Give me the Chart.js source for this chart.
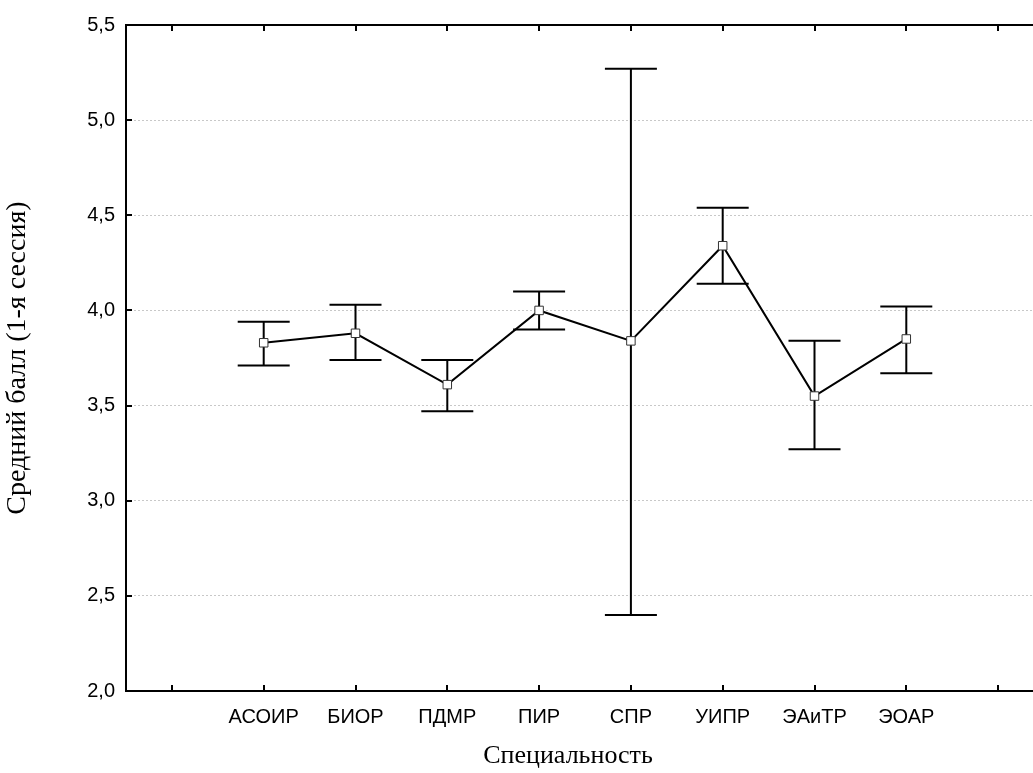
<!DOCTYPE html>
<html>
<head>
<meta charset="utf-8">
<script src="https://cdn.jsdelivr.net/npm/chart.js@4/dist/chart.umd.min.js"></script>
<style>
  html, body { margin: 0; padding: 0; background: #fff; overflow: hidden; }
  #wrap { width: 1060px; height: 773px; }
</style>
</head>
<body>
<div id="wrap"><canvas id="grafico" width="1060" height="773"></canvas></div>
<script>
const categorias = ["АСОИР", "БИОР", "ПДМР", "ПИР", "СПР", "УИПР", "ЭАиТР", "ЭОАР"];
const medias = [3.83, 3.88, 3.61, 4.00, 3.84, 4.34, 3.55, 3.85];
const inferior = [3.71, 3.74, 3.47, 3.90, 2.40, 4.14, 3.27, 3.67];
const superior = [3.94, 4.03, 3.74, 4.10, 5.27, 4.54, 3.84, 4.02];
const yMin = 2.0;
const yMax = 5.5;
const yPaso = 0.5;
const tituloX = "Специальность";
const tituloY = "Средний балл (1-я сессия)";

// empty slots at both ends, like the original axis
const etiquetas = ["", ...categorias, ""];
const datos = [null, ...medias, null];

const barrasError = {
  id: "barrasError",
  beforeDatasetsDraw(chart) {
    const { ctx, scales: { x, y } } = chart;
    ctx.save();
    ctx.strokeStyle = "#000";
    ctx.lineWidth = 2;
    categorias.forEach((c, i) => {
      const px = x.getPixelForValue(i + 1);
      const arriba = y.getPixelForValue(superior[i]);
      const abajo = y.getPixelForValue(inferior[i]);
      ctx.beginPath();
      ctx.moveTo(px, arriba);
      ctx.lineTo(px, abajo);
      ctx.moveTo(px - 26, arriba);
      ctx.lineTo(px + 26, arriba);
      ctx.moveTo(px - 26, abajo);
      ctx.lineTo(px + 26, abajo);
      ctx.stroke();
    });
    ctx.restore();
  }
};

const marco = {
  id: "marco",
  afterDraw(chart) {
    const { ctx, chartArea: a, scales: { x, y } } = chart;
    ctx.save();
    ctx.strokeStyle = "#000";
    ctx.lineWidth = 2;
    ctx.beginPath();
    ctx.moveTo(a.right + 1, a.top);
    ctx.lineTo(a.left, a.top);
    ctx.lineTo(a.left, a.bottom);
    ctx.lineTo(a.right + 1, a.bottom);
    ctx.stroke();
    // inward ticks
    ctx.beginPath();
    for (let i = 0; i < etiquetas.length; i++) {
      const px = Math.round(x.getPixelForTick(i));
      ctx.moveTo(px, a.bottom);
      ctx.lineTo(px, a.bottom - 6);
      ctx.moveTo(px, a.top);
      ctx.lineTo(px, a.top + 6);
    }
    y.ticks.forEach(t => {
      const py = Math.round(y.getPixelForValue(t.value));
      ctx.moveTo(a.left, py);
      ctx.lineTo(a.left + 6, py);
    });
    ctx.stroke();
    // x title, sits a bit left of the plot centre in the original
    ctx.fillStyle = "#000";
    ctx.font = "26px 'Liberation Serif', 'Times New Roman'";
    ctx.textAlign = "center";
    ctx.textBaseline = "middle";
    ctx.fillText(tituloX, a.left + (a.right - a.left) * 0.4815, 756);
    ctx.restore();
  }
};

new Chart(document.getElementById("grafico"), {
  type: "line",
  data: {
    labels: etiquetas,
    datasets: [{
      data: datos,
      borderColor: "#000",
      borderWidth: 2,
      tension: 0,
      pointStyle: "rect",
      pointRadius: 6,
      pointBackgroundColor: "#fff",
      pointBorderColor: "#333",
      pointBorderWidth: 1
    }]
  },
  options: {
    responsive: false,
    animation: false,
    layout: { padding: { top: 25, right: 16, left: 0, bottom: 0 } },
    plugins: {
      legend: { display: false },
      tooltip: { enabled: false }
    },
    scales: {
      x: {
        type: "category",
        offset: true,
        afterFit: s => { s.height = 82; },
        grid: { display: false, drawTicks: false },
        border: { display: false },
        ticks: {
          color: "#000",
          padding: 14,
          autoSkip: false,
          maxRotation: 0,
          font: { family: "'Liberation Sans', Arial", size: 20 }
        }
      },
      y: {
        min: yMin,
        max: yMax,
        afterFit: s => { s.width = 126; },
        grid: { color: "#c8c8c8", lineWidth: 1, drawTicks: false },
        border: { display: false, dash: [2, 2] },
        ticks: {
          stepSize: yPaso,
          color: "#000",
          padding: 11,
          font: { family: "'Liberation Sans', Arial", size: 20 },
          callback: v => v.toFixed(1).replace(".", ",")
        },
        title: {
          display: true,
          text: tituloY,
          color: "#000",
          padding: { top: 1, bottom: 0 },
          font: { family: "'Liberation Serif', 'Times New Roman'", size: 28 }
        }
      }
    }
  },
  plugins: [barrasError, marco]
});
</script>
</body>
</html>
